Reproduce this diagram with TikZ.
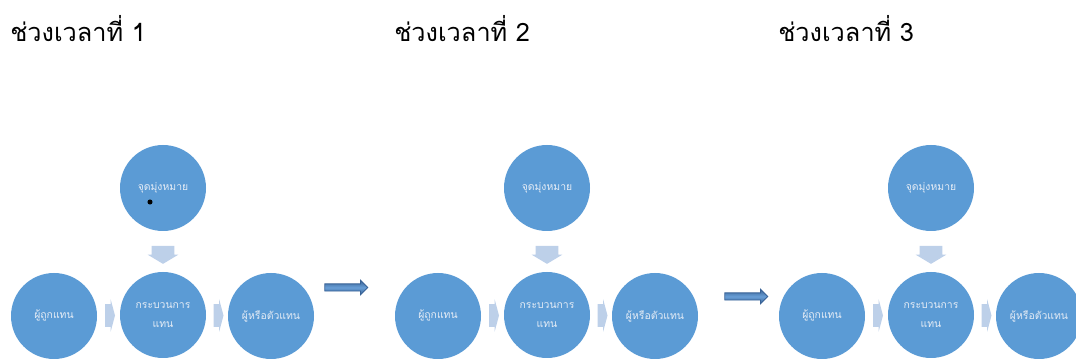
\documentclass[tikz,border=0pt]{standalone}
\usepackage{fontspec}
\newfontfamily\thaifont[Script=Thai]{Loma}
\usetikzlibrary{%
		shapes.arrows%
		,calc%
	}
\definecolor{circblue}{RGB}{91,155,213}
\definecolor{chevblue}{RGB}{189,208,233}
\definecolor{bigdark}{RGB}{56,98,150}
\definecolor{biglight}{RGB}{104,158,214}
\definecolor{labeltext}{RGB}{230,237,246}

\begin{document}
\begin{tikzpicture}[x=0.75pt, y=-0.75pt,
		circ/.style={circle, fill=circblue, minimum size=64.5pt, inner sep=0pt, align=center, text=labeltext, font=\thaifont\fontsize{7.8}{14}\selectfont},
		chev/.style={single arrow, fill=chevblue, inner xsep=0pt, inner ysep=8.25pt, single arrow head indent=0pt},
		bigarrow/.style={single arrow, inner xsep=0pt, inner ysep=2.4pt, minimum height=32.25pt, single arrow head extend=2.8pt, draw=bigdark, line width=0.6pt, top color=bigdark, bottom color=bigdark, middle color=biglight},
		title/.style={anchor=base west, inner sep=0pt, font=\thaifont\fontsize{19}{24}\selectfont}]
	\useasboundingbox (0,0) rectangle (1076,363);
	
	\foreach \i/\x in {1/0, 2/384, 3/768}{
		\node[title] (title\i) at (10+\x, 42) {ช่วงเวลาที่ \i};
		
		\node[circ] (goal\i) at (163+\x, 188) {จุดมุ่งหมาย};
		\node[circ] (from\i) at (54+\x, 316) {ผู้ถูกแทน};
		\node[circ] (proc\i) at (163+\x, 315) {กระบวนการ\\แทน};
		\node[circ] (agent\i) at (271+\x, 316) {ผู้หรือตัวแทน};
		
		\node[chev, rotate=-90, minimum height=13.5pt, single arrow head extend=3pt, single arrow tip angle=118] (down\i) at ($(goal\i)!0.5!(proc\i)$) {};
		\node[chev, minimum height=7.5pt, single arrow head extend=3.6pt, single arrow tip angle=150] (left\i) at ($(from\i)!0.5!(proc\i)$) {};
		\node[chev, minimum height=7.5pt, single arrow head extend=3.6pt, single arrow tip angle=150] (right\i) at ($(proc\i)!0.5!(agent\i)$) {};
	}
	
	\fill (150,202) circle (1.9pt);
	
	\node[bigarrow] (big1) at (344.5, 287.5) {};
	\node[bigarrow] (big2) at (744.5, 296.5) {};
\end{tikzpicture}
\end{document}
